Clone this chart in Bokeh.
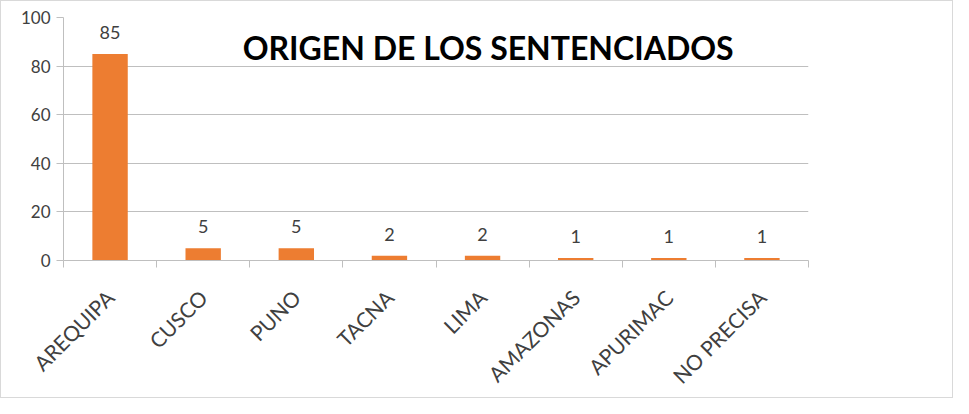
import math
from bokeh.plotting import figure
from bokeh.models import Range1d, FixedTicker, ColumnDataSource, LabelSet, Label
from bokeh.core.properties import value
from bokeh.embed import file_html
from bokeh.resources import INLINE

categories = ["AREQUIPA", "CUSCO", "PUNO", "TACNA", "LIMA", "AMAZONAS", "APURIMAC", "NO PRECISA"]
values = [85, 5, 5, 2, 2, 1, 1, 1]
y_ticks = [0, 20, 40, 60, 80, 100]
title_text = "ORIGEN DE LOS SENTENCIADOS"

n = len(categories)
centers = [i + 0.5 for i in range(n)]
bounds = [float(i) for i in range(n + 1)]

FONT = "Lato"
ORANGE = "#ED7D31"

p = figure(width=953, height=398, output_backend="svg", toolbar_location=None,
           x_range=Range1d(0, n), y_range=Range1d(0, 100),
           min_border_left=62, min_border_right=146, min_border_top=16, min_border_bottom=138,
           background_fill_color="white", border_fill_color="white")
p.outline_line_color = None
p.styles = {"border": "1px solid #d9d9d9", "box-sizing": "border-box"}

src = ColumnDataSource(dict(x=centers, top=values, label=[str(v) for v in values], cat=categories))
p.vbar(x="x", top="top", width=0.38, source=src, fill_color=ORANGE, line_color=None)

labels = LabelSet(x="x", y="top", text="label", source=src, text_align="center",
                  text_baseline="bottom", y_offset=15, text_font=value(FONT),
                  text_font_size="18px", text_color="#404040")
p.add_layout(labels)

title = Label(x=4.56, y=87.5, text=title_text, text_align="center", text_baseline="middle",
              text_font=FONT, text_font_style="bold", text_font_size="32px", text_color="#000000")
p.add_layout(title)

# x axis
xa = p.xaxis[0]
xa.ticker = FixedTicker(ticks=centers, minor_ticks=bounds)
xa.major_label_overrides = {c: name for c, name in zip(centers, categories)}
xa.major_label_orientation = math.pi / 4
xa.major_tick_out = 0
xa.major_tick_in = 0
xa.minor_tick_out = 7
xa.minor_tick_in = 0
xa.minor_tick_line_color = "#bfbfbf"
xa.axis_line_color = "#bfbfbf"
xa.major_label_text_font = FONT
xa.major_label_text_font_size = "21px"
xa.major_label_text_color = "#404040"
xa.major_label_standoff = 26

ya = p.yaxis[0]
ya.ticker = FixedTicker(ticks=y_ticks)
ya.major_tick_out = 7
ya.major_tick_in = 0
ya.minor_tick_line_color = None
ya.major_tick_line_color = "#bfbfbf"
ya.axis_line_color = "#bfbfbf"
ya.major_label_text_font = FONT
ya.major_label_text_font_size = "17px"
ya.major_label_text_color = "#404040"
ya.major_label_standoff = 6

p.xgrid.grid_line_color = None
p.ygrid.grid_line_color = "#bfbfbf"
p.ygrid.ticker = FixedTicker(ticks=y_ticks)

open("out.html", "w").write(file_html(p, INLINE))
